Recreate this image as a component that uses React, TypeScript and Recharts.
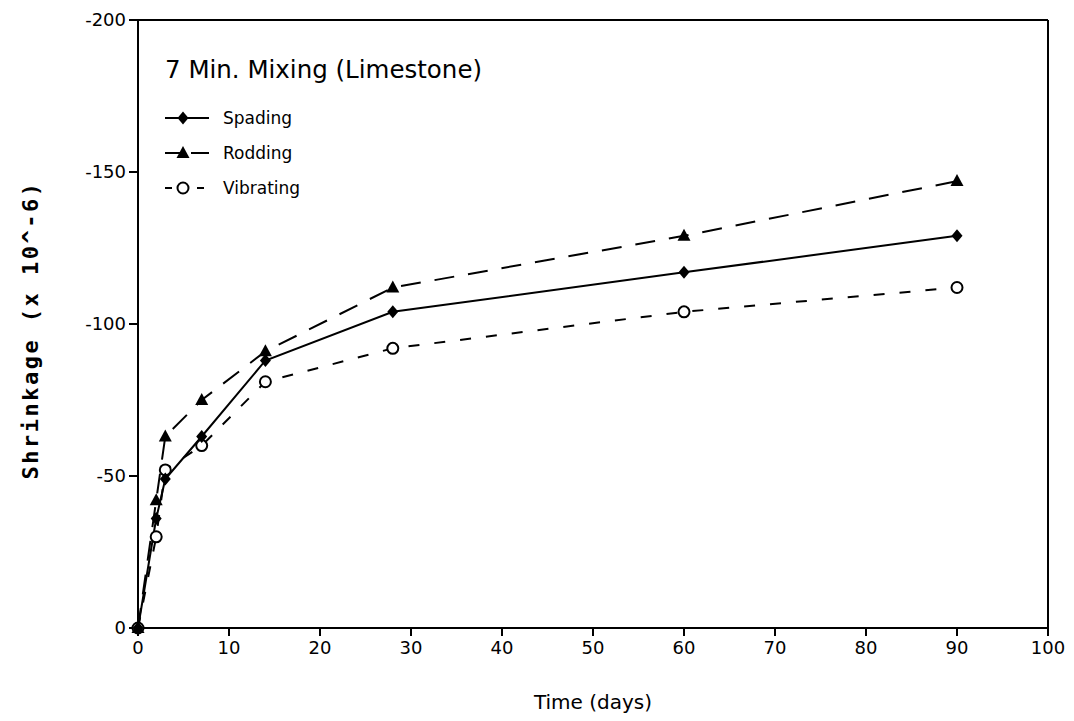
import { Line, LineChart, ReferenceLine, XAxis, YAxis } from "recharts";

// days after casting
const days = [0, 2, 3, 7, 14, 28, 60, 90];
// shrinkage in microstrain (plotted negative, axis reversed)
const spading = [0, -36, -49, -63, -88, -104, -117, -129];
const rodding = [0, -42, -63, -75, -91, -112, -129, -147];
const vibrating = [0, -30, -52, -60, -81, -92, -104, -112];

const xTicks = [0, 10, 20, 30, 40, 50, 60, 70, 80, 90, 100];
const yTicks = [-200, -150, -100, -50, 0];

const title = "7 Min. Mixing (Limestone)";
const xTitle = "Time (days)";
const yTitle = "Shrinkage (x 10^-6)";

const data = days.map((d, i) => ({ day: d, spading: spading[i], rodding: rodding[i], vibrating: vibrating[i] }));

const font = "'DejaVu Sans', sans-serif";

function Diamond({ cx, cy }: any) {
  return <path d={`M${cx},${cy - 6.5}L${cx + 5.5},${cy}L${cx},${cy + 6.5}L${cx - 5.5},${cy}Z`} fill="#000" />;
}
function Triangle({ cx, cy }: any) {
  return <path d={`M${cx},${cy - 7}L${cx + 6.5},${cy + 5}L${cx - 6.5},${cy + 5}Z`} fill="#000" />;
}
function Ring({ cx, cy }: any) {
  return <circle cx={cx} cy={cy} r={5.5} fill="#fff" stroke="#000" strokeWidth={2} />;
}

const series = [
  { key: "spading", name: "Spading", dash: undefined, icon: undefined, Mark: Diamond },
  { key: "rodding", name: "Rodding", dash: "20 14", icon: "18 8", Mark: Triangle },
  { key: "vibrating", name: "Vibrating", dash: "11 15", icon: "7 9", Mark: Ring },
];

// title + legend sit inside the plot, top-left
function LegendBox() {
  return (
    <div style={{ position: "absolute", left: 157, top: 47, fontFamily: font, color: "#000", pointerEvents: "none" }}>
      <div style={{ fontSize: 24.5, marginBottom: 16 }}>{title}</div>
      {series.map((s) => (
        <div key={s.key} style={{ display: "flex", alignItems: "center", height: 35, fontSize: 17 }}>
          <svg width={44} height={16} style={{ marginRight: 14 }}>
            <line x1={0} y1={8} x2={44} y2={8} stroke="#000" strokeWidth={2} strokeDasharray={s.icon} />
            <s.Mark cx={18} cy={8} />
          </svg>
          {s.name}
        </div>
      ))}
    </div>
  );
}

function YTitle({ viewBox }: any) {
  const x = viewBox.x + 22;
  const y = viewBox.y + viewBox.height / 2 + 6;
  return (
    <text x={x} y={y} transform={`rotate(-90 ${x} ${y})`} textAnchor="middle" dominantBaseline="central"
      fontFamily="'DejaVu Sans Mono', monospace" fontWeight="bold" fontSize={22} letterSpacing={2.5} fill="#000">
      {yTitle}
    </text>
  );
}

export default function App() {
  const tick = { fill: "#000", fontSize: 18, fontFamily: font };
  return (
    <div style={{ position: "relative", width: 1058, height: 705 }}>
      <LineChart width={1058} height={705} data={data} margin={{ top: 12, right: 18, bottom: 0, left: 0 }}>
        <XAxis dataKey="day" type="number" domain={[0, 100]} ticks={xTicks} interval={0} height={85}
          stroke="#000" strokeWidth={2} tickSize={8} tickMargin={5} tick={tick}
          label={{ value: xTitle, position: "insideBottom", offset: 4, fill: "#000", fontSize: 20, fontFamily: font }} />
        <YAxis type="number" domain={[-200, 0]} ticks={yTicks} reversed width={130} interval={0}
          stroke="#000" strokeWidth={2} tickSize={9} tickMargin={3} tick={tick} label={<YTitle />} />
        <ReferenceLine y={-200} stroke="#000" strokeWidth={2} />
        <ReferenceLine x={100} stroke="#000" strokeWidth={2} />
        {[...series].reverse().map((s) => (
          <Line key={s.key} dataKey={s.key} name={s.name} type="linear" stroke="#000" strokeWidth={2}
            strokeDasharray={s.dash} dot={(p: any) => <s.Mark key={`${s.key}-${p.index}`} cx={p.cx} cy={p.cy} />}
            activeDot={false} isAnimationActive={false} />
        ))}
      </LineChart>
      <LegendBox />
    </div>
  );
}
